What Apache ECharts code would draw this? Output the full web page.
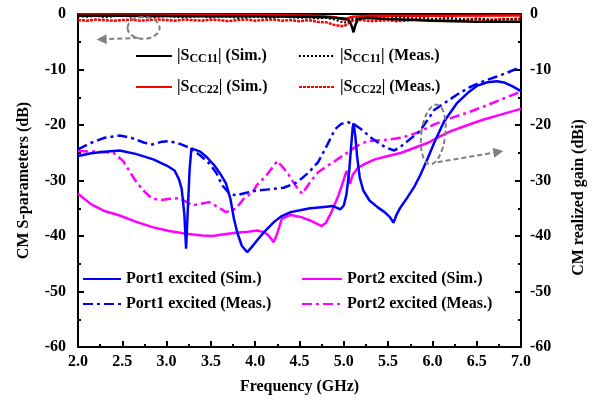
<!DOCTYPE html>
<html>
<head>
<meta charset="utf-8">
<script src="https://cdn.jsdelivr.net/npm/echarts@6/dist/echarts.min.js"></script>
<style>
  html, body { margin: 0; padding: 0; background: #fff; }
  #chart { width: 595px; height: 400px; }
</style>
</head>
<body>
<div id="chart"></div>
<script>
// ---- axis ticks ----
const xTicks = [2.0, 2.5, 3.0, 3.5, 4.0, 4.5, 5.0, 5.5, 6.0, 6.5, 7.0];
const yTicks = [0, -10, -20, -30, -40, -50, -60];

// ---- |S_CC11| / |S_CC22| near 0 dB ----
const fS11Sim = [2.0, 2.5, 3.0, 3.5, 4.0, 4.5, 4.8, 5.0, 5.06, 5.09, 5.11, 5.13, 5.16, 5.25, 5.5, 6.0, 6.5, 7.0];
const s11Sim  = [-0.3, -0.3, -0.35, -0.4, -0.4, -0.5, -0.6, -0.8, -1.2, -2.2, -3.3, -2.0, -0.9, -0.7, -0.9, -1.2, -1.4, -1.4];

const fStep = [2.0, 2.1, 2.2, 2.3, 2.4, 2.5, 2.6, 2.7, 2.8, 2.9,
               3.0, 3.1, 3.2, 3.3, 3.4, 3.5, 3.6, 3.7, 3.8, 3.9,
               4.0, 4.1, 4.2, 4.3, 4.4, 4.5, 4.6, 4.7, 4.8, 4.9,
               5.0, 5.1, 5.2, 5.3, 5.4, 5.5, 5.6, 5.7, 5.8, 5.9,
               6.0, 6.1, 6.2, 6.3, 6.4, 6.5, 6.6, 6.7, 6.8, 6.9, 7.0];
const s11Meas = [-0.4, -0.5, -0.3, -0.6, -0.4, -0.3, -0.5, -0.4, -0.6, -0.5,
                 -0.4, -0.5, -0.6, -0.5, -0.4, -0.6, -0.5, -0.5, -0.7, -0.6,
                 -0.5, -0.6, -0.7, -0.5, -0.6, -0.7, -0.6, -0.8, -0.7, -1.0,
                 -1.6, -0.9, -0.7, -0.6, -0.7, -0.8, -0.6, -0.7, -0.8, -0.7,
                 -0.9, -0.8, -0.7, -0.9, -1.0, -0.8, -0.9, -1.1, -1.0, -0.9, -0.8];

const fS22Sim = [2.0, 3.0, 4.0, 4.7, 4.9, 5.0, 5.1, 5.3, 6.0, 7.0];
const s22Sim  = [-0.1, -0.15, -0.2, -0.3, -0.6, -1.0, -0.5, -0.3, -0.3, -0.25];

const s22Meas = [-1.1, -1.2, -1.0, -1.1, -1.2, -1.1, -1.0, -1.2, -1.1, -1.0,
                 -1.1, -1.2, -1.0, -1.1, -1.2, -1.0, -1.1, -1.3, -1.1, -1.0,
                 -1.2, -1.1, -1.0, -1.2, -1.1, -1.3, -1.1, -1.4, -1.5, -2.0,
                 -2.2, -1.2, -1.1, -1.3, -1.2, -1.1, -1.3, -1.2, -1.0, -1.1,
                 -1.2, -1.0, -1.1, -1.2, -1.0, -0.9, -1.1, -1.0, -0.9, -1.0, -0.9];

// ---- Port1 excited ----
const fP1Sim = [2.00, 2.15, 2.30, 2.47, 2.65, 2.85, 3.00, 3.09, 3.14, 3.17, 3.20, 3.22, 3.24, 3.26, 3.28, 3.30,
                3.38, 3.46, 3.54, 3.61, 3.67, 3.72, 3.76, 3.80, 3.85, 3.91, 3.96, 4.02, 4.10, 4.21, 4.30,
                4.40, 4.52, 4.62, 4.75, 4.88, 4.96, 5.00, 5.03, 5.06, 5.08, 5.10, 5.11, 5.13, 5.15, 5.18,
                5.22, 5.29, 5.38, 5.46, 5.52, 5.56, 5.60, 5.63, 5.72, 5.80, 5.87, 5.95, 6.02, 6.13, 6.28,
                6.40, 6.51, 6.62, 6.73, 6.82, 6.90, 7.00];
const p1Sim  = [-25.6, -25.1, -24.8, -24.6, -25.2, -26.2, -27.3, -28.2, -29.8, -31.5, -36.0, -42.3, -35.0, -28.0, -24.2, -24.0,
                -24.8, -25.9, -27.3, -28.9, -30.5, -33.3, -36.9, -39.5, -41.8, -42.9, -42.0, -40.8, -39.3, -37.5, -36.4,
                -35.7, -35.3, -35.0, -34.8, -34.6, -35.2, -34.5, -32.5, -28.5, -24.4, -20.5, -19.7, -22.0, -25.6, -29.5,
                -31.8, -33.6, -34.8, -35.7, -36.6, -37.6, -36.0, -35.1, -33.0, -31.0, -28.8, -25.9, -23.2, -19.4, -16.0,
                -14.2, -12.9, -12.3, -12.1, -12.4, -13.0, -13.9];

const fP1Meas = [2.00, 2.15, 2.30, 2.47, 2.60, 2.75, 2.84, 2.95, 3.03, 3.15, 3.26, 3.38, 3.48, 3.56, 3.63, 3.70,
                 3.78, 3.90, 4.02, 4.15, 4.32, 4.45, 4.52, 4.60, 4.71, 4.80, 4.90, 4.97, 5.05, 5.12, 5.20,
                 5.30, 5.39, 5.48, 5.57, 5.65, 5.75, 5.83, 5.87, 5.95, 6.02, 6.15, 6.28, 6.42, 6.58, 6.72,
                 6.84, 6.93, 7.00];
const p1Meas  = [-24.4, -23.2, -22.3, -21.9, -22.3, -23.2, -23.5, -23.0, -22.9, -23.4, -24.1, -25.5, -26.9, -28.6, -30.9, -32.2,
                 -32.7, -32.2, -31.8, -31.6, -31.3, -30.5, -29.7, -28.6, -26.7, -24.0, -20.8, -19.8, -19.5, -19.9, -20.8,
                 -22.2, -23.2, -24.1, -24.6, -23.8, -22.5, -21.5, -20.8, -19.0, -17.3, -15.9, -14.5, -13.2, -12.1, -11.3,
                 -10.6, -10.0, -9.5];

// ---- Port2 excited ----
const fP2Sim = [2.00, 2.15, 2.30, 2.47, 2.65, 2.84, 3.03, 3.22, 3.40, 3.52, 3.65, 3.78, 3.89, 4.02, 4.10, 4.15,
                4.21, 4.25, 4.30, 4.40, 4.52, 4.62, 4.70, 4.75, 4.80, 4.86, 4.94, 4.99, 5.03, 5.05, 5.07,
                5.10, 5.16, 5.25, 5.35, 5.50, 5.65, 5.80, 5.95, 6.08, 6.21, 6.40, 6.58, 6.80, 7.00];
const p2Sim  = [-32.4, -34.3, -35.5, -36.3, -37.4, -38.4, -39.1, -39.6, -39.9, -40.0, -39.7, -39.4, -39.3, -39.0, -39.3, -39.9,
                -41.1, -39.5, -36.9, -36.2, -36.6, -37.2, -37.8, -38.2, -37.6, -35.7, -32.7, -30.3, -28.3, -29.0, -30.6,
                -29.0, -27.7, -26.9, -26.2, -25.6, -25.0, -24.1, -23.2, -22.1, -21.1, -20.0, -19.0, -18.0, -17.1];

const fP2Meas = [2.00, 2.20, 2.40, 2.51, 2.58, 2.66, 2.75, 2.84, 2.95, 3.03, 3.14, 3.22, 3.29, 3.38, 3.48, 3.58,
                 3.67, 3.78, 3.87, 3.97, 4.02, 4.12, 4.20, 4.25, 4.30, 4.36, 4.45, 4.53, 4.62, 4.71, 4.80,
                 4.90, 5.00, 5.09, 5.18, 5.27, 5.46, 5.65, 5.83, 6.02, 6.20, 6.39, 6.56, 6.73, 6.87, 7.00];
const p2Meas  = [-24.7, -24.8, -25.0, -26.5, -28.3, -30.3, -32.0, -33.3, -33.5, -33.3, -33.2, -33.8, -34.5, -34.2, -33.9, -34.8,
                 -35.7, -35.1, -33.3, -32.1, -30.8, -29.2, -27.5, -26.5, -27.4, -28.5, -30.8, -32.4, -30.3, -28.5, -27.5,
                 -26.5, -25.4, -24.4, -23.5, -22.9, -22.7, -22.3, -21.4, -19.9, -18.8, -17.8, -16.8, -15.7, -14.8, -14.0];

const FONT = '"Liberation Serif", "Times New Roman", serif';
const BLUE = '#0000ff', MAGENTA = '#ff00ff', RED = '#ff0000', BLACK = '#000000', GREY = '#808080';
const DASHDOT = [10, 4, 3, 4];

const pairs = (xs, ys) => xs.map((x, i) => [x, ys[i]]);

function lineSeries(name, xs, ys, color, width, type, z) {
  return {
    name: name,
    type: 'line',
    data: pairs(xs, ys),
    symbol: 'none',
    smooth: false,
    xAxisIndex: 0,
    yAxisIndex: 0,
    z: z || 2,
    lineStyle: { color: color, width: width, type: type },
    itemStyle: { color: color },
    animation: false
  };
}

const series = [
  lineSeries('S22meas', fStep, s22Meas, RED, 2.5, [3, 1], 3),
  lineSeries('S22sim', fS22Sim, s22Sim, RED, 2.5, 'solid', 3),
  lineSeries('S11meas', fStep, s11Meas, BLACK, 2, [2, 2], 4),
  lineSeries('S11sim', fS11Sim, s11Sim, BLACK, 2.5, 'solid', 4),
  lineSeries('P2meas', fP2Meas, p2Meas, MAGENTA, 2.5, DASHDOT, 2),
  lineSeries('P2sim', fP2Sim, p2Sim, MAGENTA, 2.5, 'solid', 2),
  lineSeries('P1meas', fP1Meas, p1Meas, BLUE, 2.5, DASHDOT, 2),
  lineSeries('P1sim', fP1Sim, p1Sim, BLUE, 2.5, 'solid', 2)
];

const legendLabels = {
  S11sim:  '{m||S}{s|CC11}{m|| (Sim.)}',
  S11meas: '{m||S}{s|CC11}{m|| (Meas.)}',
  S22sim:  '{m||S}{s|CC22}{m|| (Sim.)}',
  S22meas: '{m||S}{s|CC22}{m|| (Meas.)}',
  P1sim:   'Port1 excited (Sim.)',
  P1meas:  'Port1 excited (Meas.)',
  P2sim:   'Port2 excited (Sim.)',
  P2meas:  'Port2 excited (Meas.)'
};

const richText = {
  m: { fontFamily: FONT, fontWeight: 'bold', fontSize: 16, lineHeight: 18, color: BLACK },
  s: { fontFamily: FONT, fontWeight: 'bold', fontSize: 12, lineHeight: 12, padding: [13, 0, 0, 0], verticalAlign: 'bottom', color: BLACK }
};

function legendBlock(names, left, top, itemWidth, gap) {
  return {
    data: names,
    orient: 'vertical',
    left: left,
    top: top,
    itemWidth: itemWidth,
    itemHeight: 14,
    itemGap: gap,
    padding: 0,
    selectedMode: false,
    // line-only keys: the marker symbol is hidden
    itemStyle: { opacity: 0 },
    formatter: (n) => legendLabels[n],
    textStyle: { fontFamily: FONT, fontWeight: 'bold', fontSize: 16, lineHeight: 18, color: BLACK, rich: richText }
  };
}

const axisFont = { fontFamily: FONT, fontWeight: 'bold', fontSize: 16, color: BLACK };

const option = {
  animation: false,
  backgroundColor: '#ffffff',
  grid: { left: 78, right: 71, top: 14, bottom: 51, containLabel: false },
  legend: [
    legendBlock(['S11sim', 'S22sim'], 135, 40, 36, 6),
    legendBlock(['S11meas', 'S22meas'], 298, 40, 36, 6),
    legendBlock(['P1sim', 'P1meas'], 82, 270, 38, 7),
    legendBlock(['P2sim', 'P2meas'], 301, 270, 40, 7)
  ],
  xAxis: [
    {
      type: 'value', position: 'bottom', min: 2, max: 7, interval: 0.5,
      name: 'Frequency (GHz)', nameLocation: 'middle', nameGap: 32,
      nameTextStyle: axisFont,
      axisLine: { show: true, onZero: false, lineStyle: { color: BLACK, width: 2 } },
      axisTick: { show: true, inside: true, length: 6, lineStyle: { color: BLACK, width: 2 } },
      minorTick: { show: true, splitNumber: 2, length: 3, lineStyle: { color: BLACK, width: 2 } },
      axisLabel: { ...axisFont, margin: 7, formatter: (v) => xTicks.includes(v) ? v.toFixed(1) : '' },
      splitLine: { show: false }
    },
    {
      type: 'value', position: 'top', min: 2, max: 7, interval: 0.5,
      axisLine: { show: true, onZero: false, lineStyle: { color: BLACK, width: 2 } },
      axisTick: { show: false }, axisLabel: { show: false }, splitLine: { show: false }
    }
  ],
  yAxis: [
    {
      type: 'value', position: 'left', min: -60, max: 0, interval: 10,
      name: 'CM S-parameters (dB)', nameLocation: 'middle', nameGap: 46, nameRotate: 90,
      nameTextStyle: axisFont,
      axisLine: { show: true, onZero: false, lineStyle: { color: BLACK, width: 2 } },
      axisTick: { show: true, inside: true, length: 6, lineStyle: { color: BLACK, width: 2 } },
      minorTick: { show: true, splitNumber: 2, length: 3, lineStyle: { color: BLACK, width: 2 } },
      axisLabel: { ...axisFont, margin: 12, formatter: (v) => yTicks.includes(v) ? String(v) : '' },
      splitLine: { show: false }
    },
    {
      type: 'value', position: 'right', min: -60, max: 0, interval: 10,
      name: 'CM realized gain (dBi)', nameLocation: 'middle', nameGap: 50, nameRotate: 90,
      nameTextStyle: { ...axisFont, padding: [0, 34, 0, 0] },
      axisLine: { show: true, onZero: false, lineStyle: { color: BLACK, width: 2 } },
      axisTick: { show: true, inside: true, length: 6, lineStyle: { color: BLACK, width: 2 } },
      minorTick: { show: true, splitNumber: 2, length: 3, lineStyle: { color: BLACK, width: 2 } },
      axisLabel: { ...axisFont, margin: 9, formatter: (v) => yTicks.includes(v) ? String(v) : '' },
      splitLine: { show: false }
    }
  ],
  series: series
};

const chart = echarts.init(document.getElementById('chart'), null, { renderer: 'canvas' });
chart.setOption(option);

// ---- grey dashed call-outs (ellipse + arrow), placed in data coordinates ----
const px = (f, v) => chart.convertToPixel({ xAxisIndex: 0, yAxisIndex: 0 }, [f, v]);
const dashStyle = { stroke: GREY, lineWidth: 2, lineDash: [5, 3], fill: null };

function arrow(from, to) {
  const a = px(from[0], from[1]);
  const b = px(to[0], to[1]);
  const ang = Math.atan2(b[1] - a[1], b[0] - a[0]);
  const L = 10, W = 5;
  const base = [b[0] - L * Math.cos(ang), b[1] - L * Math.sin(ang)];
  const n = [-Math.sin(ang), Math.cos(ang)];
  return [
    { type: 'line', z: 10, shape: { x1: a[0], y1: a[1], x2: base[0], y2: base[1] }, style: dashStyle },
    { type: 'polygon', z: 10, shape: { points: [b, [base[0] + n[0] * W, base[1] + n[1] * W], [base[0] - n[0] * W, base[1] - n[1] * W]] },
      style: { fill: GREY, stroke: null } }
  ];
}

function ellipse(cf, cv, rx, ry, rot) {
  const c = px(cf, cv);
  return { type: 'ellipse', z: 10, x: c[0], y: c[1], rotation: rot || 0,
           shape: { cx: 0, cy: 0, rx: rx, ry: ry }, style: dashStyle };
}

chart.setOption({
  graphic: [
    ellipse(2.74, -2.5, 16, 11, 0),
    ...arrow([2.68, -4.3], [2.21, -4.6]),
    ellipse(6.01, -21.7, 12, 30, -0.12),
    ...arrow([6.06, -26.7], [6.80, -24.7])
  ]
});
</script>
</body>
</html>
